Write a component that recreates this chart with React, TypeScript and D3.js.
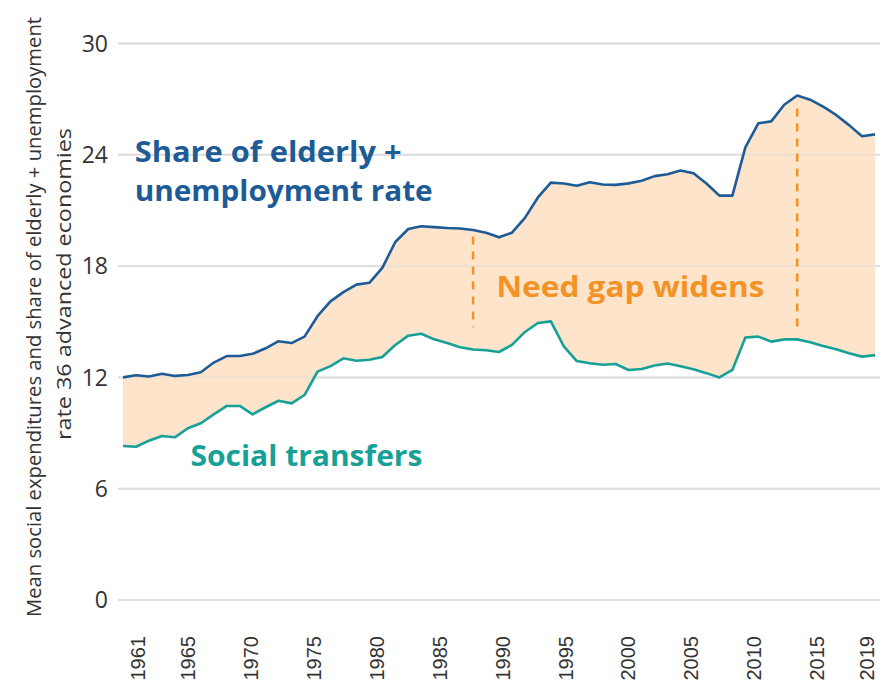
import * as d3 from "d3";

// years 1961..2019
const years = d3.range(1961, 2020);

// share of elderly + unemployment rate
const elderlyUnemp = [
  12.0, 12.12, 12.05, 12.2, 12.08, 12.13, 12.28, 12.8, 13.15, 13.15,
  13.27, 13.57, 13.95, 13.85, 14.2, 15.3, 16.1, 16.6, 17.0, 17.1,
  17.9, 19.3, 20.0, 20.15, 20.1, 20.05, 20.03, 19.95, 19.8, 19.55,
  19.8, 20.6, 21.7, 22.5, 22.45, 22.33, 22.52, 22.4, 22.38, 22.46,
  22.6, 22.85, 22.95, 23.15, 23.0, 22.45, 21.8, 21.8, 24.4, 25.7,
  25.8, 26.7, 27.2, 26.97, 26.6, 26.15, 25.6, 25.0, 25.1,
];

// social transfers
const socialTransfers = [
  8.3, 8.26, 8.59, 8.84, 8.77, 9.26, 9.53, 10.01, 10.46, 10.46,
  10.01, 10.39, 10.74, 10.6, 11.05, 12.31, 12.61, 13.03, 12.9, 12.95,
  13.1, 13.75, 14.25, 14.35, 14.05, 13.85, 13.63, 13.5, 13.46, 13.37,
  13.75, 14.45, 14.93, 15.02, 13.67, 12.88, 12.76, 12.68, 12.72, 12.4,
  12.45, 12.64, 12.75, 12.6, 12.44, 12.23, 12.0, 12.4, 14.15, 14.2,
  13.93, 14.05, 14.05, 13.9, 13.69, 13.52, 13.3, 13.12, 13.2,
];

const yTicks = [0, 6, 12, 18, 24, 30];
const xTickYears = [1961, 1965, 1970, 1975, 1980, 1985, 1990, 1995, 2000, 2005, 2010, 2015, 2019];

// dashed "gap" markers: [year, from, to]
const gapMarkers: [number, number, number][] = [
  [1988, 19.6, 14.7],
  [2013, 26.5, 14.6],
];

const yTitle = [
  "Mean social expenditures and share of elderly + unemployment",
  "rate 36 advanced economies",
];
const blueLabel = ["Share of elderly +", "unemployment rate"];
const gapLabel = "Need gap widens";
const tealLabel = "Social transfers";

const BLUE = "#1d5b97";
const TEAL = "#17a096";
const ORANGE = "#f39325";
const FILL = "#fde4cb";

export default function App() {
  const width = 889;
  const height = 687;

  const x = d3.scaleLinear().domain([1961, 2019]).range([123, 875]);
  // category labels are spread a little narrower than the plotted line
  const xLabel = d3.scaleLinear().domain([1961, 2019]).range([138, 867]);
  const y = d3.scaleLinear().domain([0, 30]).range([600, 43.5]);

  const rows = years.map((yr, i) => ({
    year: yr,
    top: elderlyUnemp[i],
    bottom: socialTransfers[i],
  }));

  const area = d3
    .area<(typeof rows)[number]>()
    .x((d) => x(d.year))
    .y0((d) => y(d.bottom))
    .y1((d) => y(d.top));

  const topLine = d3
    .line<(typeof rows)[number]>()
    .x((d) => x(d.year))
    .y((d) => y(d.top));

  const bottomLine = d3
    .line<(typeof rows)[number]>()
    .x((d) => x(d.year))
    .y((d) => y(d.bottom));

  const boldFont = "'Open Sans', 'Noto Sans', sans-serif";
  const labelProps = {
    fontFamily: boldFont,
    fontWeight: 700,
    fontSize: 28,
    lengthAdjust: "spacingAndGlyphs" as const,
  };

  return (
    <svg
      width={width}
      height={height}
      style={{ position: "absolute", left: 0, top: 0, background: "#fff" }}
    >
      {/* grid */}
      {yTicks.map((t) => (
        <line
          key={t}
          x1={118}
          x2={880}
          y1={y(t)}
          y2={y(t)}
          stroke="#dedede"
          strokeWidth={2}
        />
      ))}

      {/* gap area */}
      <path d={area(rows) || ""} fill={FILL} />

      {/* gridlines show through faintly over the fill */}
      {yTicks.map((t) => (
        <line
          key={"o" + t}
          x1={118}
          x2={880}
          y1={y(t)}
          y2={y(t)}
          stroke="#dedede"
          strokeOpacity={0.5}
          strokeWidth={2}
        />
      ))}

      {gapMarkers.map(([yr, a, b]) => (
        <line
          key={yr}
          x1={x(yr)}
          x2={x(yr)}
          y1={y(a)}
          y2={y(b)}
          stroke={ORANGE}
          strokeWidth={2.5}
          strokeDasharray="8,7"
        />
      ))}

      <path d={topLine(rows) || ""} fill="none" stroke={BLUE} strokeWidth={2.6} strokeLinejoin="round" />
      <path d={bottomLine(rows) || ""} fill="none" stroke={TEAL} strokeWidth={2.6} strokeLinejoin="round" />

      {/* y tick labels */}
      {yTicks.map((t) => (
        <text
          key={"l" + t}
          x={108}
          y={y(t)}
          dy="0.36em"
          textAnchor="end"
          fontFamily="'Open Sans', sans-serif"
          fontSize={23}
          fill="#333"
        >
          {t}
        </text>
      ))}

      {/* x tick labels */}
      {xTickYears.map((yr) => (
        <text
          key={"x" + yr}
          transform={`translate(${xLabel(yr)},636) rotate(-90)`}
          textAnchor="end"
          dy="0.36em"
          fontFamily="'Liberation Sans', Arial, sans-serif"
          fontSize={20}
          fill="#333"
        >
          {yr}
        </text>
      ))}

      {/* y axis title */}
      <text
        transform="translate(41,317) rotate(-90)"
        textAnchor="middle"
        fontFamily="'Open Sans', sans-serif"
        fontSize={20}
        textLength={600}
        lengthAdjust="spacingAndGlyphs"
        fill="#333"
      >
        {yTitle[0]}
      </text>
      <text
        transform="translate(71,284) rotate(-90)"
        textAnchor="middle"
        fontFamily="'Open Sans', sans-serif"
        fontSize={20}
        textLength={312}
        lengthAdjust="spacingAndGlyphs"
        fill="#333"
      >
        {yTitle[1]}
      </text>

      {/* annotations */}
      <text x={x(1961.9)} y={y(23.6)} textLength={267} fill={BLUE} {...labelProps}>
        {blueLabel[0]}
      </text>
      <text x={x(1961.9)} y={y(23.6) + 39} textLength={298} fill={BLUE} {...labelProps}>
        {blueLabel[1]}
      </text>
      <text x={x(1989.8)} y={y(16.33)} textLength={268} fill={ORANGE} {...labelProps}>
        {gapLabel}
      </text>
      <text x={x(1966.2)} y={y(7.22)} textLength={232} fill={TEAL} {...labelProps}>
        {tealLabel}
      </text>
    </svg>
  );
}
